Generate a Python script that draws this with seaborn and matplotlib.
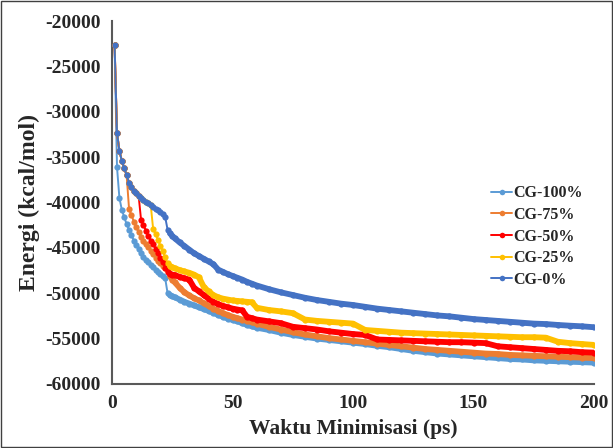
import numpy as np
import pandas as pd
import matplotlib
matplotlib.use("Agg")
import matplotlib.pyplot as plt
from matplotlib.lines import Line2D
from matplotlib.patches import Rectangle
import seaborn as sns

# waktu minimisasi (ps)
waktu = list(range(1, 26)) + list(range(26, 61, 2)) + list(range(65, 201, 5))

# energi (kcal/mol)
cg_100 = [-22600, -36100, -39500, -40800, -41600, -42400, -43000, -43600, -44200, -44700,
          -45100, -45600, -46000, -46300, -46600, -46900, -47100, -47400, -47650, -47850,
          -48100, -48350, -50000, -50200, -50350,
          -50450, -50700, -50950, -51150, -51350, -51550, -51750, -51950, -52150, -52400,
          -52600, -52800, -52950, -53100, -53300, -53500, -53650, -53800,
          -54050, -54350, -54600, -54800, -55000, -55150, -55300, -55450, -55600, -55800,
          -55950, -56150, -56350, -56500, -56650, -56750, -56850, -56950, -57050, -57150,
          -57250, -57300, -57400, -57450, -57500, -57550, -57600, -57650]
cg_75 = [-22600, -32300, -34300, -35400, -36200, -37000, -40700, -41400, -42100, -42700,
         -43300, -43800, -44200, -44600, -44900, -45300, -45700, -46100, -46400, -46700,
         -46950, -47250, -47600, -48100, -48500,
         -48800, -49400, -49900, -50250, -50550, -50800, -51100, -51400, -51700, -51950,
         -52200, -52400, -52600, -52750, -52900, -53050, -53200, -53350,
         -53700, -54000, -54300, -54550, -54750, -54950, -55100, -55250, -55400, -55550,
         -55700, -55850, -56000, -56150, -56250, -56350, -56450, -56550, -56650, -56700,
         -56800, -56850, -56900, -56950, -57000, -57050, -57100, -57150]
cg_50 = [-22600, -32300, -34300, -35400, -36200, -37000, -37800, -38300, -38700, -39000,
         -39300, -41950, -42500, -43100, -43700, -44200, -44600, -45100, -45600, -46100,
         -46600, -47200, -47700, -47850, -47950,
         -48000, -48200, -48350, -48500, -49400, -49800, -50200, -50600, -50950, -51200,
         -51400, -51550, -51700, -51800, -51900, -52600, -52750, -52900,
         -53100, -53300, -53700, -53850, -54000, -54200, -54350, -54500, -54600, -55100,
         -55150, -55200, -55250, -55300, -55350, -55400, -55400, -55450, -55500, -55850,
         -55950, -56050, -56150, -56250, -56350, -56400, -56500, -56550]
cg_25 = [-22600, -32300, -34300, -35400, -36200, -37000, -37800, -38300, -38700, -39000,
         -39300, -39500, -39700, -39900, -40100, -40300, -42900, -43500, -44100, -44800,
         -45400, -46000, -46700, -47000, -47150,
         -47250, -47450, -47600, -47750, -47950, -48250, -49300, -49800, -50200, -50450,
         -50600, -50700, -50800, -50850, -50900, -50950, -51000, -51600,
         -51850, -52000, -52200, -52900, -53050, -53150, -53250, -53350, -54050, -54150,
         -54250, -54350, -54400, -54450, -54500, -54550, -54600, -54650, -54700, -54750,
         -54800, -54850, -54850, -54900, -55350, -55500, -55600, -55700]
cg_0 = [-22600, -32300, -34300, -35400, -36200, -37000, -37800, -38300, -38700, -39000,
        -39300, -39500, -39700, -39900, -40100, -40300, -40500, -40700, -40850, -41000,
        -41250, -41600, -43000, -43400, -43700,
        -43950, -44400, -44800, -45200, -45600, -45900, -46200, -46500, -46800, -47400,
        -47650, -47900, -48100, -48300, -48500, -48750, -48950, -49150,
        -49550, -49900, -50200, -50500, -50750, -50950, -51150, -51300, -51500, -51700,
        -51850, -52000, -52150, -52300, -52450, -52550, -52700, -52850, -52950, -53050,
        -53150, -53250, -53350, -53400, -53500, -53580, -53650, -53750]

seri = ["CG-100%", "CG-75%", "CG-50%", "CG-25%", "CG-0%"]
warna = ["#5B9BD5", "#ED7D31", "#FF0000", "#FFC000", "#4472C4"]

df = pd.DataFrame({
    "waktu": waktu * 5,
    "energi": cg_100 + cg_75 + cg_50 + cg_25 + cg_0,
    "seri": sum([[s] * len(waktu) for s in seri], []),
})

sns.set_style("white")
plt.rcParams["font.family"] = ["Liberation Serif", "DejaVu Serif"]
plt.rcParams["font.weight"] = "bold"
plt.rcParams["axes.unicode_minus"] = False

fig = plt.figure(figsize=(6.13, 4.48), dpi=100)
ax = fig.add_axes([0.183, 0.143, 0.786, 0.810])

# satu per satu supaya CG-0% digambar paling atas (seperti Excel)
for i, (s, c) in enumerate(zip(seri, warna)):
    d = df[df["seri"] == s]
    # garis tipis + marker
    sns.lineplot(data=d, x="waktu", y="energi", color=c, marker="o", markersize=4.5,
                 markeredgewidth=0, linewidth=1.4, sort=False, zorder=3 + 2 * i, ax=ax)
    # bagian akhir tampak tebal karena marker rapat
    sns.lineplot(data=d[d["waktu"] >= 24], x="waktu", y="energi", color=c,
                 linewidth=4.2, sort=False, zorder=4 + 2 * i, ax=ax)

ax.set_xlim(0, 200)
ax.set_ylim(-60000, -20000)
ax.set_xticks(range(0, 201, 50))
ax.set_yticks(range(-60000, -19999, 5000))
ax.tick_params(length=0, labelsize=14, pad=8)
for lbl in ax.get_xticklabels() + ax.get_yticklabels():
    lbl.set_fontweight("bold")

for s in ["top", "right"]:
    ax.spines[s].set_visible(False)
for s in ["left", "bottom"]:
    ax.spines[s].set_color("#595959")
    ax.spines[s].set_linewidth(1.5)

ax.set_xlabel("Waktu Minimisasi (ps)", fontsize=15.5, fontweight="bold", labelpad=5)
ax.set_ylabel("Energi (kcal/mol)", fontsize=17, fontweight="bold", labelpad=4)

handles = [Line2D([0], [0], color=c, lw=1.4, marker="o", markersize=4, markeredgewidth=0)
           for c in warna]
leg = ax.legend(handles, seri, loc="upper left", bbox_to_anchor=(477 / 613, 1 - 171 / 448),
                bbox_transform=fig.transFigure, frameon=False, handlelength=1.3,
                handletextpad=0.1, labelspacing=0.35,
                prop={"family": "Liberation Serif", "weight": "bold", "size": 11.5})

fig.patches.append(Rectangle((0.002, 0.002), 0.996, 0.996, transform=fig.transFigure,
                             fill=False, edgecolor="#404040", linewidth=1))

fig.savefig("out.png", dpi=100)
